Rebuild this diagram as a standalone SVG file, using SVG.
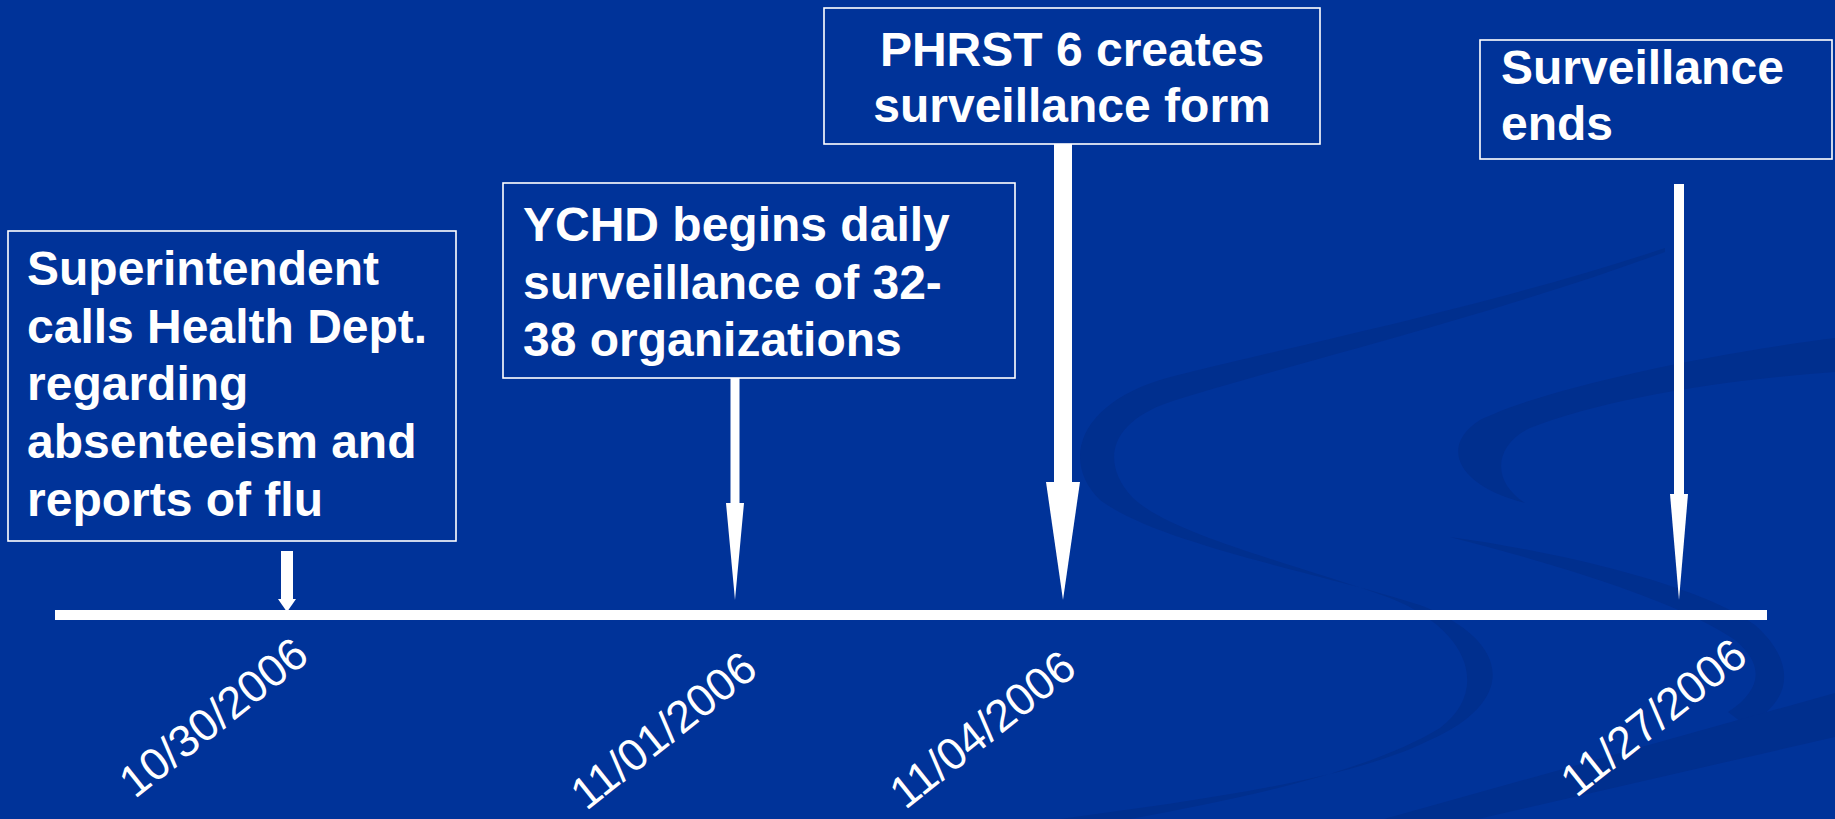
<svg xmlns="http://www.w3.org/2000/svg" width="1835" height="819" viewBox="0 0 1835 819">
<defs>
<style>
.bg{fill:#003399}
.sw{fill:#002f8e;stroke:none}
.box{fill:#003399;stroke:#ffffff;stroke-width:1.6}
.bt{font-family:"Liberation Sans",Arial,sans-serif;font-weight:bold;font-size:48px;fill:#ffffff}
.dt{font-family:"Liberation Sans",Arial,sans-serif;font-size:45px;fill:#ffffff;text-anchor:middle}
.wh{fill:#ffffff}
</style>
</defs>
<rect class="bg" x="0" y="0" width="1835" height="819"/>
<g id="background-swooshes">
<path class="sw" d="M1665,248 C1480,310 1250,355 1160,380 C1080,405 1060,460 1100,500 C1160,545 1330,575 1420,605 C1510,640 1520,700 1430,740 C1350,780 1200,800 1060,819 L1130,819 C1260,795 1370,770 1440,728 C1490,690 1470,630 1390,598 C1300,565 1170,535 1132,497 C1100,462 1110,422 1170,402 C1260,372 1480,320 1665,252 Z"/>
<path class="sw" d="M1835,338 C1700,355 1540,390 1480,420 C1440,445 1455,485 1525,503 C1490,480 1495,445 1530,428 C1600,400 1720,380 1835,372 Z"/>
<path class="sw" d="M1450,537 C1560,552 1700,585 1755,625 C1800,665 1790,705 1745,725 L1728,712 C1762,690 1765,665 1735,640 C1680,602 1560,565 1450,537 Z"/>
<path class="sw" d="M1835,693 L1835,737 L1478,819 L1384,819 Z"/>
</g>
<g id="timeline">
<rect class="wh" x="55" y="610" width="1712" height="10"/>
</g>
<g id="node-superintendent">
<rect class="box" x="8" y="231" width="448" height="310"/>
<text class="bt"><tspan x="27" y="285">Superintendent</tspan><tspan x="27" y="343">calls Health Dept.</tspan><tspan x="27" y="400">regarding</tspan><tspan x="27" y="458">absenteeism and</tspan><tspan x="27" y="516">reports of flu</tspan></text>
</g>
<g id="node-ychd">
<rect class="box" x="503" y="183" width="512" height="195"/>
<text class="bt"><tspan x="523" y="241">YCHD begins daily</tspan><tspan x="523" y="299">surveillance of 32-</tspan><tspan x="523" y="356">38 organizations</tspan></text>
</g>
<g id="node-phrst">
<rect class="box" x="824" y="8" width="496" height="136"/>
<text class="bt" text-anchor="middle"><tspan x="1072" y="66">PHRST 6 creates</tspan><tspan x="1072" y="122">surveillance form</tspan></text>
</g>
<g id="node-ends">
<rect class="box" x="1480" y="40" width="352" height="119"/>
<text class="bt"><tspan x="1501" y="84">Surveillance</tspan><tspan x="1501" y="140">ends</tspan></text>
</g>
<g id="connectors">
<rect class="wh" x="281" y="551" width="12" height="49"/>
<polygon class="wh" points="278,599 296,599 287,612"/>
<rect class="wh" x="730.5" y="378" width="9" height="126"/>
<polygon class="wh" points="726,503 744,503 735,600"/>
<rect class="wh" x="1054" y="144" width="18" height="339"/>
<polygon class="wh" points="1046,482 1080,482 1063,600"/>
<rect class="wh" x="1674" y="184" width="10" height="311"/>
<polygon class="wh" points="1670,494 1688,494 1679,600"/>
</g>
<g id="dates">
<text class="dt" transform="translate(213,717) rotate(-38.5)" x="0" y="16">10/30/2006</text>
<text class="dt" transform="translate(663,730) rotate(-38.5)" x="0" y="16">11/01/2006</text>
<text class="dt" transform="translate(982,729) rotate(-38.5)" x="0" y="16">11/04/2006</text>
<text class="dt" transform="translate(1653,717) rotate(-38.5)" x="0" y="16">11/27/2006</text>
</g>
</svg>
